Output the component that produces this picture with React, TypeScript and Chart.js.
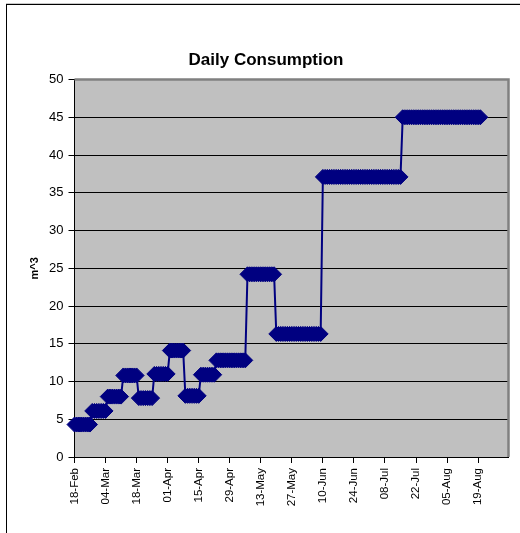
import React, { useEffect, useRef } from 'react';
import { Chart, registerables } from 'chart.js';

Chart.register(...registerables);

const TITLE = 'Daily Consumption';
const Y_TITLE = 'm^3';

// Reading periods (daily consumption is constant within each period)
const periodFrom = ['18-Feb', '26-Feb', '05-Mar', '12-Mar', '19-Mar', '26-Mar', '02-Apr', '09-Apr', '16-Apr', '23-Apr', '07-May', '20-May', '10-Jun', '16-Jul'];
const periodTo = ['25-Feb', '04-Mar', '11-Mar', '18-Mar', '25-Mar', '01-Apr', '08-Apr', '15-Apr', '22-Apr', '06-May', '19-May', '09-Jun', '15-Jul', '20-Aug'];
const dailyUsage = [4.3, 6.1, 8.0, 10.8, 7.8, 11.0, 14.1, 8.1, 10.9, 12.8, 24.2, 16.3, 37.1, 45.0];

const xTickLabels = ['18-Feb', '04-Mar', '18-Mar', '01-Apr', '15-Apr', '29-Apr', '13-May', '27-May', '10-Jun', '24-Jun', '08-Jul', '22-Jul', '05-Aug', '19-Aug'];
const yMin = 0;
const yMax = 50;
const yStep = 5;

const MONTHS = ['Jan', 'Feb', 'Mar', 'Apr', 'May', 'Jun', 'Jul', 'Aug', 'Sep', 'Oct', 'Nov', 'Dec'];
const YEAR = 2009;
const ORIGIN = Date.UTC(YEAR, 1, 18);
const DAY_MS = 86400000;

function toDay(label: string): number {
  const [d, m] = label.split('-');
  return Math.round((Date.UTC(YEAR, MONTHS.indexOf(m), Number(d)) - ORIGIN) / DAY_MS);
}

function toLabel(day: number): string {
  const dt = new Date(ORIGIN + Math.round(day) * DAY_MS);
  return String(dt.getUTCDate()).padStart(2, '0') + '-' + MONTHS[dt.getUTCMonth()];
}

const FONT = "'Liberation Sans', Arial, sans-serif";

const plotArea = {
  id: 'plotArea',
  beforeDraw(chart: any) {
    const { ctx, chartArea: a } = chart;
    ctx.save();
    ctx.fillStyle = '#C0C0C0';
    ctx.fillRect(a.left, a.top, a.right - a.left, a.bottom - a.top);
    ctx.restore();
  },
  beforeDatasetsDraw(chart: any) {
    const { ctx, chartArea: a } = chart;
    ctx.save();
    ctx.strokeStyle = '#808080';
    ctx.lineWidth = 2.5;
    ctx.beginPath();
    ctx.moveTo(a.left, a.top);
    ctx.lineTo(a.right, a.top);
    ctx.lineTo(a.right, a.bottom);
    ctx.stroke();
    ctx.restore();
  },
};

export default function App() {
  const ref = useRef<HTMLCanvasElement | null>(null);

  useEffect(() => {
    if (!ref.current) return;
    const points: { x: number; y: number }[] = [];
    periodFrom.forEach((from, i) => {
      const end = toDay(periodTo[i]);
      for (let d = toDay(from); d <= end; d++) points.push({ x: d, y: dailyUsage[i] });
    });

    Chart.defaults.font.family = FONT;

    const chart = new Chart(ref.current, {
      type: 'line',
      data: {
        datasets: [
          {
            data: points,
            borderColor: '#000080',
            borderWidth: 2,
            pointStyle: 'rectRot',
            pointRadius: 7.5,
            pointBorderWidth: 1,
            pointBackgroundColor: '#000080',
            pointBorderColor: '#000080',
            tension: 0,
            clip: false as any,
          },
        ],
      },
      options: {
        responsive: false,
        animation: false,
        events: [],
        layout: { padding: { left: 23.5, right: 11.5, top: 0, bottom: 0 } },
        plugins: {
          legend: { display: false },
          tooltip: { enabled: false },
          title: {
            display: true,
            text: TITLE,
            color: '#000',
            font: { family: FONT, size: 17, weight: 'bold' },
            padding: { top: 50, bottom: 9.1 },
          },
        },
        scales: {
          x: {
            type: 'linear',
            min: 0,
            max: 195.7,
            afterBuildTicks(s: any) {
              s.ticks = xTickLabels.map((l) => ({ value: toDay(l) }));
            },
            afterFit(s: any) {
              s.height = 76;
            },
            ticks: {
              autoSkip: false,
              minRotation: 90,
              maxRotation: 90,
              color: '#000',
              font: { family: FONT, size: 11.5 },
              padding: 5,
              callback: (v: any) => toLabel(Number(v)),
            },
            grid: { drawOnChartArea: false, drawTicks: true, tickColor: '#000', tickLength: 6 },
            border: { color: '#000', width: 1 },
          },
          y: {
            min: yMin,
            max: yMax,
            afterFit(s: any) {
              s.width = 51;
            },
            ticks: { stepSize: yStep, color: '#000', font: { family: FONT, size: 13 }, padding: 5 },
            grid: { color: '#000', tickColor: '#000', tickLength: 6, lineWidth: 1 },
            border: { color: '#000', width: 1 },
            title: {
              display: true,
              text: Y_TITLE,
              color: '#000',
              font: { family: FONT, size: 11, weight: 'bold' },
              padding: { top: 5, bottom: 0 },
            },
          },
        },
      },
      plugins: [plotArea],
    } as any);

    return () => chart.destroy();
  }, []);

  return (
    <div style={{ position: 'fixed', left: 0, top: 0, width: 520, height: 533, overflow: 'hidden', background: '#fff' }}>
      <div style={{ position: 'absolute', left: 6, top: 3, width: 600, height: 1, background: '#c8c8c8' }} />
      <div style={{ position: 'absolute', left: 6, top: 4, width: 600, height: 600, border: '1px solid #000', boxSizing: 'border-box' }} />
      <canvas ref={ref} width={520} height={533} style={{ position: 'absolute', left: 0, top: 0 }} />
    </div>
  );
}
